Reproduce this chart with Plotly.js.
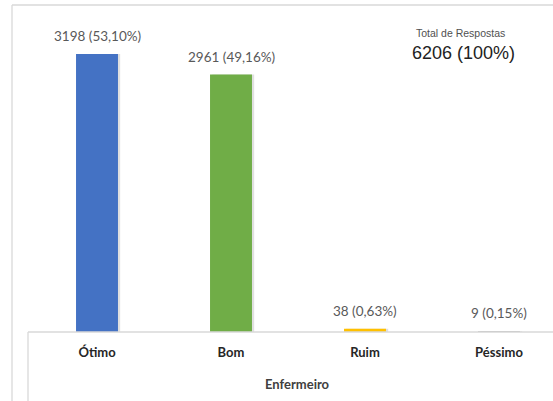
<!DOCTYPE html>
<html><head><meta charset="utf-8">
<script src="https://cdn.plot.ly/plotly-3.0.1.min.js"></script>
<style>html,body{margin:0;padding:0;background:#fff}#c{width:553px;height:401px}</style>
</head><body><div id="c"></div>
<script>
const categories = ["Ótimo", "Bom", "Ruim", "Péssimo"];
const counts = [3198, 2961, 38, 9];
const percentLabels = ["53,10%", "49,16%", "0,63%", "0,15%"];
const barColors = ["#4472C4", "#70AD47", "#FFC000", "#A5A5A5"];
const totalLabel = "6206 (100%)";
const W = 553, H = 401;
const px = x => x / W, py = y => 1 - y / H;

const shadow = {
  type: "bar", x: categories, y: counts, width: 0.313, offset: -0.140,
  marker: {color: "rgba(0,0,0,0.12)"}, hoverinfo: "skip", showlegend: false
};
const bars = {
  type: "bar", x: categories, y: counts, width: 0.313, offset: -0.1565,
  marker: {color: barColors}, hoverinfo: "x+y", showlegend: false
};

const annotations = categories.map((c, i) => ({
  x: c, y: counts[i], xref: "x", yref: "y", yanchor: "bottom", yshift: 8,
  text: counts[i] + " (" + percentLabels[i] + ")", showarrow: false,
  font: {family: "Lato, 'Open Sans', sans-serif", size: 13.5, color: "#595959"}
}));
annotations.push(
  {x: px(297), y: py(384), xref: "paper", yref: "paper", yanchor: "middle", text: "<b>Enfermeiro</b>", showarrow: false,
   font: {family: "Lato, sans-serif", size: 13, color: "#404040"}},
  {x: px(414), y: py(33), xref: "paper", yref: "paper", xanchor: "left", yanchor: "middle", text: "Total de Respostas", showarrow: false,
   font: {family: "Liberation Sans, Arial, sans-serif", size: 10.5, color: "#505050"}},
  {x: px(410), y: py(53), xref: "paper", yref: "paper", xanchor: "left", yanchor: "middle", text: totalLabel, showarrow: false,
   font: {family: "Liberation Sans, Arial, sans-serif", size: 18, color: "#222"}}
);

const lineStyle = {color: "#D9D9D9", width: 1.3};
const shapes = [
  {type: "line", xref: "paper", yref: "paper", x0: px(12), x1: px(12), y0: py(5), y1: py(401), line: lineStyle},
  {type: "line", xref: "paper", yref: "paper", x0: px(12), x1: px(553), y0: py(5), y1: py(5), line: lineStyle},
  {type: "line", xref: "paper", yref: "paper", x0: px(28), x1: px(553), y0: py(332), y1: py(332), line: lineStyle},
  {type: "line", xref: "paper", yref: "paper", x0: px(28), x1: px(28), y0: py(332), y1: py(401), line: lineStyle}
];

const layout = {
  width: W, height: H, margin: {l: 0, r: 0, t: 0, b: 0},
  paper_bgcolor: "#fff", plot_bgcolor: "#fff", barmode: "overlay",
  xaxis: {domain: [px(30), 1], type: "category", range: [-0.5, 3.403], showline: false, ticks: "",
          showgrid: false, zeroline: false, ticklabelstandoff: 11,
          tickfont: {family: "Lato, 'Open Sans', sans-serif", size: 13, color: "#262626", weight: "bold"}},
  yaxis: {domain: [py(332), py(20)], range: [0, 3589], visible: false, showgrid: false, zeroline: false},
  annotations: annotations, shapes: shapes
};
Plotly.newPlot("c", [shadow, bars], layout, {staticPlot: true});
</script></body></html>
